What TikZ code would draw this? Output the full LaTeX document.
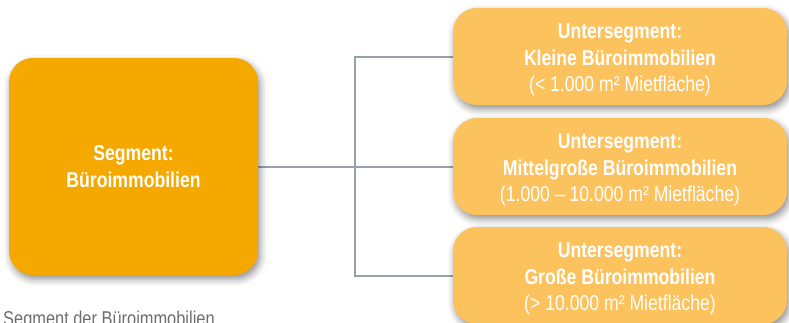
\documentclass[tikz,border=0pt]{standalone}
\usepackage{fontspec}
\setmainfont[FakeStretch=0.82]{Liberation Sans}
\usetikzlibrary{shadows.blur,backgrounds}
\definecolor{segorange}{HTML}{F5A800}
\definecolor{suborange}{HTML}{FBC25E}
\definecolor{linkgray}{HTML}{97A1AB}
\definecolor{captiongray}{HTML}{6E6E6E}
% extra room above the first line pushes the text block slightly down
\newcommand{\toplift}{\rule{0pt}{21.6pt}}
\tikzset{
  softshadow/.style={blur shadow={shadow xshift=2pt, shadow yshift=-4pt,
      shadow blur radius=7pt, shadow opacity=45}},
  segbox/.style={fill=segorange, rounded corners=24pt, minimum width=249pt,
      minimum height=217pt, inner sep=0pt, align=center, text=white,
      font=\bfseries\fontsize{21.5}{27}\selectfont, softshadow},
  subbox/.style={fill=suborange, rounded corners=24pt, minimum width=334pt,
      minimum height=97pt, inner sep=0pt, align=center, text=white,
      font=\fontsize{21.5}{26.5}\selectfont, softshadow},
  link/.style={draw=linkgray, line width=2pt},
  caption/.style={text=captiongray, font=\fontsize{20}{22}\selectfont,
      anchor=base west, inner sep=0pt}
}
\begin{document}
\begin{tikzpicture}[x=1pt, y=-1pt]
  \clip (0,0) rectangle (789,322);
  \useasboundingbox (0,0) rectangle (789,322);

  \node[segbox] (seg) at (133.5,166.5) {Segment:\\Büroimmobilien};

  \node[subbox] (klein) at (620,56.5)
    {\toplift\textbf{Untersegment:}\\\textbf{Kleine Büroimmobilien}\\(< 1.000 m² Mietfläche)};
  \node[subbox] (mittel) at (620,166.5)
    {\toplift\textbf{Untersegment:}\\\textbf{Mittelgroße Büroimmobilien}\\(1.000 – 10.000 m² Mietfläche)};
  \node[subbox] (gross) at (620,275.5)
    {\toplift\textbf{Untersegment:}\\\textbf{Große Büroimmobilien}\\(> 10.000 m² Mietfläche)};

  \node[caption] (cap) at (3,325) {Segment der Büroimmobilien};

  \coordinate (fork) at (355,166.5);
  \begin{scope}[on background layer]
    \draw[link] (seg.east) -- (mittel.west);
    \draw[link] (klein.west) -| (fork) |- (gross.west);
  \end{scope}
\end{tikzpicture}
\end{document}
